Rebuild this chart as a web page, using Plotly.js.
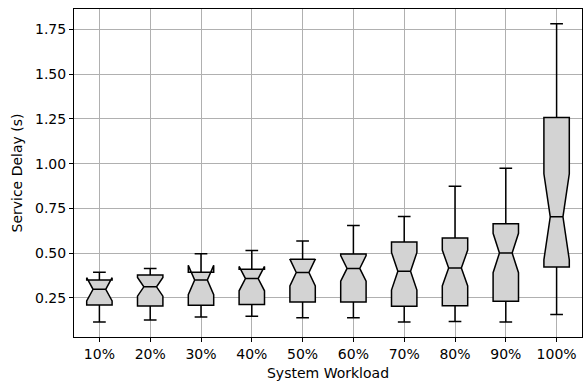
<!DOCTYPE html>
<html>
<head>
<meta charset="utf-8">
<script src="https://cdn.plot.ly/plotly-3.0.1.min.js"></script>
<style>html,body{margin:0;padding:0;background:#fff;}#chart{width:583px;height:383px;}</style>
</head>
<body>
<div id="chart"></div>
<script>
const categories = ['10%','20%','30%','40%','50%','60%','70%','80%','90%','100%'];
const positions = [1,2,3,4,5,6,7,8,9,10];
const lowerWhisker = [0.116, 0.127, 0.144, 0.148, 0.140, 0.140, 0.116, 0.118, 0.116, 0.157];
const q1 = [0.211, 0.205, 0.209, 0.213, 0.227, 0.227, 0.203, 0.207, 0.231, 0.423];
const medians = [0.298, 0.312, 0.350, 0.358, 0.392, 0.415, 0.399, 0.417, 0.501, 0.703];
const q3 = [0.350, 0.378, 0.393, 0.410, 0.466, 0.495, 0.563, 0.585, 0.664, 1.258];
const upperWhisker = [0.394, 0.415, 0.497, 0.515, 0.568, 0.654, 0.705, 0.874, 0.974, 1.780];
const notchSpan = [0.065, 0.052, 0.082, 0.068, 0.075, 0.072, 0.105, 0.100, 0.110, 0.240];
const yTicks = [0.25, 0.50, 0.75, 1.00, 1.25, 1.50, 1.75];

const font = {family: 'DejaVu Sans, sans-serif', size: 14, color: '#000000'};

const trace = {
  type: 'box',
  x: positions,
  q1: q1,
  median: medians,
  q3: q3,
  lowerfence: lowerWhisker,
  upperfence: upperWhisker,
  notchspan: notchSpan,
  notched: true,
  notchwidth: 0.25,
  width: 0.5,
  whiskerwidth: 0.5,
  boxpoints: false,
  fillcolor: '#d3d3d3',
  line: {color: '#000', width: 1.5},
  showlegend: false,
  hoverinfo: 'skip'
};

const layout = {
  width: 583, height: 383,
  margin: {l: 74, r: 1, t: 9, b: 46},
  paper_bgcolor: '#fff', plot_bgcolor: '#fff',
  font: font,
  showlegend: false,
  xaxis: {
    range: [0.5, 10.5],
    tickmode: 'array', tickvals: positions, ticktext: categories,
    showgrid: true, gridcolor: '#b0b0b0', gridwidth: 1,
    zeroline: false,
    showline: true, linecolor: '#000', linewidth: 1, mirror: true,
    ticks: 'outside', ticklen: 4, tickcolor: '#000', tickwidth: 1,
    tickfont: font,
    title: {text: 'System Workload', font: font, standoff: 7}
  },
  yaxis: {
    range: [0.032, 1.863],
    tickmode: 'array', tickvals: yTicks, ticktext: yTicks.map(v => v.toFixed(2)),
    showgrid: true, gridcolor: '#b0b0b0', gridwidth: 1,
    zeroline: false,
    showline: true, linecolor: '#000', linewidth: 1, mirror: true,
    ticks: 'outside', ticklen: 4, tickcolor: '#000', tickwidth: 1,
    tickfont: font,
    title: {text: 'Service Delay (s)', font: font, standoff: 9}
  }
};

Plotly.newPlot('chart', [trace], layout, {displayModeBar: false, staticPlot: true});
</script>
</body>
</html>
